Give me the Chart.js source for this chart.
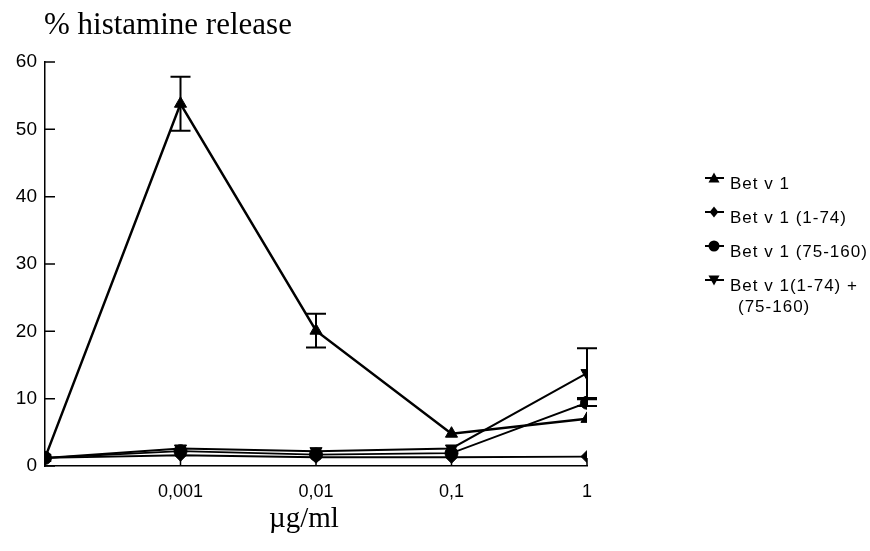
<!DOCTYPE html>
<html>
<head>
<meta charset="utf-8">
<script src="https://cdn.jsdelivr.net/npm/chart.js"></script>
<style>
  html, body { margin: 0; padding: 0; background: #fff; }
  #wrap { position: relative; width: 870px; height: 551px; }
  #title { position: absolute; left: 44px; top: 6px; font: 31px "Liberation Serif", serif; color: #000; white-space: nowrap; }
  #xlabel { position: absolute; left: 269px; top: 501px; font: 29px "Liberation Serif", serif; color: #000; white-space: nowrap; }
</style>
</head>
<body>
<div id="wrap">
  <canvas id="myChart" width="870" height="551"></canvas>
  <div id="title">% histamine release</div>
  <div id="xlabel">µg/ml</div>
</div>
<script>
// x positions: 0 = control (axis origin), then the doses
const doseLabels = ['', '0,001', '0,01', '0,1', '1'];
const yTicks = [0, 10, 20, 30, 40, 50, 60];

const betV1 = [1.2, 53.8, 20.1, 4.8, 7.0];
const betV1Err = [0, 4.0, 2.5, 0, 0];
const betV1_1_74 = [1.2, 1.6, 1.3, 1.3, 1.4];
const betV1_75_160 = [1.2, 2.2, 1.7, 1.9, 9.4];
const betV1_75_160Err = [0, 0, 0, 0, 0.5];
const betV1Combo = [1.2, 2.6, 2.2, 2.6, 13.8];
const betV1ComboErr = [0, 0, 0, 0, 3.7];

const toPoints = arr => arr.map((v, i) => ({ x: i, y: v }));

function drawMarker(ctx, style, x, y, r) {
    ctx.beginPath();
    if (style === 'triangle') {
        ctx.moveTo(x, y - r);
        ctx.lineTo(x + r, y + r * 0.8);
        ctx.lineTo(x - r, y + r * 0.8);
    } else if (style === 'triangleDown') {
        ctx.moveTo(x, y + r);
        ctx.lineTo(x + r, y - r * 0.8);
        ctx.lineTo(x - r, y - r * 0.8);
    } else if (style === 'rectRot') {
        ctx.moveTo(x, y - r);
        ctx.lineTo(x + r * 0.8, y);
        ctx.lineTo(x, y + r);
        ctx.lineTo(x - r * 0.8, y);
    } else {
        ctx.arc(x, y, r, 0, Math.PI * 2);
    }
    ctx.closePath();
    ctx.fill();
}

// error bars, drawn through the chart scales
const errorBars = {
    id: 'errorBars',
    afterDatasetsDraw(chart) {
        const ctx = chart.ctx;
        const xs = chart.scales.x, ys = chart.scales.y;
        ctx.save();
        ctx.strokeStyle = '#000';
        ctx.lineWidth = 2;
        chart.data.datasets.forEach(ds => {
            if (!ds.err) return;
            ds.err.forEach((e, i) => {
                if (!e) return;
                const px = xs.getPixelForValue(i);
                const top = ys.getPixelForValue(ds.data[i].y + e);
                const bot = ys.getPixelForValue(ds.data[i].y - e);
                ctx.beginPath();
                ctx.moveTo(px, top); ctx.lineTo(px, bot);
                ctx.moveTo(px - 10, top); ctx.lineTo(px + 10, top);
                ctx.moveTo(px - 10, bot); ctx.lineTo(px + 10, bot);
                ctx.stroke();
            });
        });
        ctx.restore();
    }
};

// inward tick marks + legend
const extras = {
    id: 'extras',
    afterDraw(chart) {
        const ctx = chart.ctx;
        const xs = chart.scales.x, ys = chart.scales.y;
        const area = chart.chartArea;
        ctx.save();
        ctx.strokeStyle = '#000';
        ctx.lineWidth = 1.5;
        ctx.beginPath();
        yTicks.forEach(v => {
            const py = ys.getPixelForValue(v);
            ctx.moveTo(area.left, py); ctx.lineTo(area.left + 10, py);
        });
        for (let i = 1; i < doseLabels.length; i++) {
            const px = xs.getPixelForValue(i);
            ctx.moveTo(px, area.bottom); ctx.lineTo(px, area.bottom - 8);
        }
        ctx.stroke();

        // legend
        const rows = [184, 218, 252, 286];
        ctx.fillStyle = '#000';
        ctx.font = '17px "Liberation Sans", Arial, sans-serif';
        ctx.letterSpacing = '1px';
        ctx.textBaseline = 'middle';
        chart.data.datasets.forEach((ds, i) => {
            const y = rows[i];
            ctx.lineWidth = 2;
            ctx.beginPath();
            ctx.moveTo(705, y - 6); ctx.lineTo(724, y - 6);
            ctx.stroke();
            drawMarker(ctx, ds.markerStyle, 714, y - 6, 5.5);
            const lines = ds.legendLines;
            ctx.fillText(lines[0], 730, y);
            if (lines[1]) ctx.fillText(lines[1], 738, y + 21);
        });
        ctx.restore();
    }
};

function makeSet(label, legendLines, data, err, style, width, radius) {
    return {
        label: label,
        legendLines: legendLines,
        data: toPoints(data),
        err: err,
        markerStyle: style,
        borderColor: '#000',
        backgroundColor: '#000',
        borderWidth: width,
        pointStyle: style === 'triangleDown' ? 'triangle' : style,
        rotation: style === 'triangleDown' ? 180 : 0,
        pointRadius: radius,
        pointBorderWidth: 1,
        tension: 0
    };
}

const ctx = document.getElementById('myChart').getContext('2d');
const myChart = new Chart(ctx, {
    type: 'line',
    data: {
        datasets: [
            makeSet('Bet v 1', ['Bet v 1'], betV1, betV1Err, 'triangle', 2.5, 7),
            makeSet('Bet v 1 (1-74)', ['Bet v 1 (1-74)'], betV1_1_74, null, 'rectRot', 1.8, 6),
            makeSet('Bet v 1 (75-160)', ['Bet v 1 (75-160)'], betV1_75_160, betV1_75_160Err, 'circle', 1.8, 6.5),
            makeSet('Bet v 1(1-74)+(75-160)', ['Bet v 1(1-74) +', '(75-160)'], betV1Combo, betV1ComboErr, 'triangleDown', 2, 7)
        ]
    },
    options: {
        responsive: false,
        animation: false,
        layout: { padding: { top: 62, right: 283, left: 0, bottom: 0 } },
        plugins: {
            legend: { display: false },
            tooltip: { enabled: false }
        },
        scales: {
            x: {
                type: 'linear',
                min: 0,
                max: doseLabels.length - 1,
                afterFit: s => { s.height = 85; },
                afterBuildTicks: s => { s.ticks = doseLabels.map((l, i) => ({ value: i })).slice(1); },
                grid: { display: false, drawTicks: false },
                border: { display: true, color: '#000', width: 1.5 },
                ticks: {
                    padding: 15,
                    color: '#000',
                    font: { family: '"Liberation Sans", Arial, sans-serif', size: 18 },
                    callback: v => doseLabels[v]
                }
            },
            y: {
                min: 0,
                max: 60,
                afterFit: s => { s.width = 45; },
                afterBuildTicks: s => { s.ticks = yTicks.map(v => ({ value: v })); },
                grid: { display: false, drawTicks: false },
                border: { display: true, color: '#000', width: 1.5 },
                ticks: {
                    padding: 8,
                    color: '#000',
                    font: { family: '"Liberation Sans", Arial, sans-serif', size: 19 }
                }
            }
        }
    },
    plugins: [errorBars, extras]
});
</script>
</body>
</html>
